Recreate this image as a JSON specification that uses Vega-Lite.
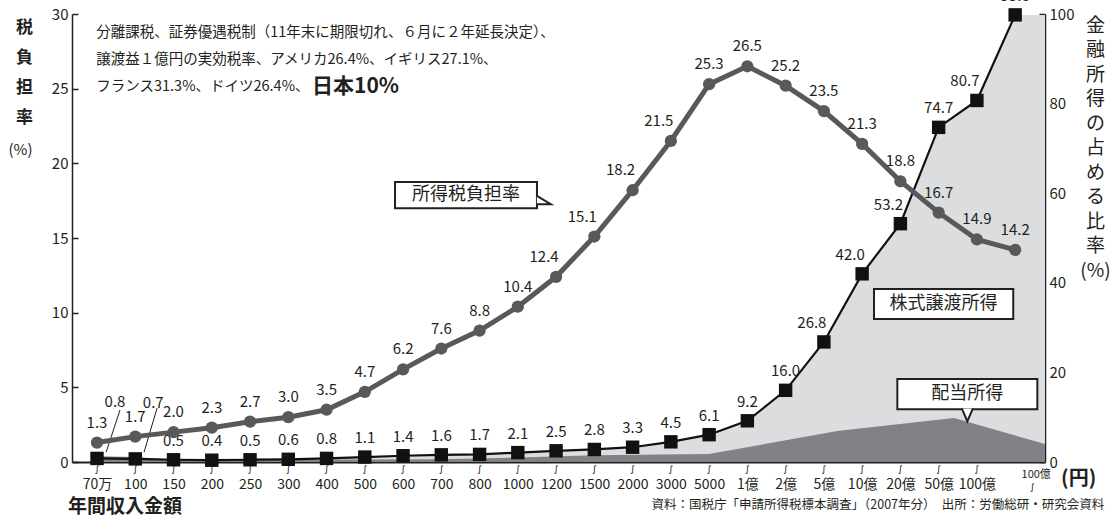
{
  "$schema": "https://vega.github.io/schema/vega-lite/v6.json",
  "width": 973,
  "height": 448,
  "autosize": {"type": "none"},
  "padding": {"left": 72, "top": 14, "right": 65, "bottom": 55},
  "background": "white",
  "config": {
    "view": {"stroke": null},
    "font": "Noto Sans CJK JP",
    "axis": {"domainColor": "#231f20", "tickColor": "#231f20", "labelColor": "#231f20", "titleColor": "#231f20", "grid": false, "domainWidth": 1.5, "tickWidth": 1.5}
  },
  "datasets": {
    "income": [
      {"i": 0, "label": "70万", "tax": 1.3, "stock": 0.8},
      {"i": 1, "label": "100", "tax": 1.7, "stock": 0.7},
      {"i": 2, "label": "150", "tax": 2.0, "stock": 0.5},
      {"i": 3, "label": "200", "tax": 2.3, "stock": 0.4},
      {"i": 4, "label": "250", "tax": 2.7, "stock": 0.5},
      {"i": 5, "label": "300", "tax": 3.0, "stock": 0.6},
      {"i": 6, "label": "400", "tax": 3.5, "stock": 0.8},
      {"i": 7, "label": "500", "tax": 4.7, "stock": 1.1},
      {"i": 8, "label": "600", "tax": 6.2, "stock": 1.4},
      {"i": 9, "label": "700", "tax": 7.6, "stock": 1.6},
      {"i": 10, "label": "800", "tax": 8.8, "stock": 1.7},
      {"i": 11, "label": "1000", "tax": 10.4, "stock": 2.1},
      {"i": 12, "label": "1200", "tax": 12.4, "stock": 2.5},
      {"i": 13, "label": "1500", "tax": 15.1, "stock": 2.8},
      {"i": 14, "label": "2000", "tax": 18.2, "stock": 3.3},
      {"i": 15, "label": "3000", "tax": 21.5, "stock": 4.5},
      {"i": 16, "label": "5000", "tax": 25.3, "stock": 6.1},
      {"i": 17, "label": "1億", "tax": 26.5, "stock": 9.2},
      {"i": 18, "label": "2億", "tax": 25.2, "stock": 16.0},
      {"i": 19, "label": "5億", "tax": 23.5, "stock": 26.8},
      {"i": 20, "label": "10億", "tax": 21.3, "stock": 42.0},
      {"i": 21, "label": "20億", "tax": 18.8, "stock": 53.2},
      {"i": 22, "label": "50億", "tax": 16.7, "stock": 74.7},
      {"i": 23, "label": "100億", "tax": 14.9, "stock": 80.7},
      {"i": 24, "label": "100億〜", "tax": 14.2, "stock": 99.8},
      {"i": 24.78, "edge": true, "stock": 99.8}
    ],
    "dividend": [
      {"i": 0, "v": 1.3},
      {"i": 1, "v": 1.1},
      {"i": 2, "v": 0.5},
      {"i": 9, "v": 0.6},
      {"i": 11, "v": 1.0},
      {"i": 13, "v": 1.5},
      {"i": 16, "v": 1.8},
      {"i": 19.35, "v": 6.9},
      {"i": 22.4, "v": 9.8},
      {"i": 24.78, "v": 4.0}
    ],
    "one": [{}]
  },
  "layer": [
    {
      "layer": [
        {
          "data": {"name": "income"},
          "mark": {"type": "area", "color": "#dcdddf", "interpolate": "linear"},
          "encoding": {
            "x": {"field": "i", "type": "quantitative", "scale": {"domain": [-0.654, 24.78], "nice": false, "zero": false},
              "axis": {"orient": "bottom", "values": [0, 1, 2, 3, 4, 5, 6, 7, 8, 9, 10, 11, 12, 13, 14, 15, 16, 17, 18, 19, 20, 21, 22, 23],
                "labelExpr": "['70万','100','150','200','250','300','400','500','600','700','800','1000','1200','1500','2000','3000','5000','1億','2億','5億','10億','20億','50億','100億'][datum.value]",
                "ticks": false, "labelPadding": 15, "labelFontSize": 14, "labelFont": "Liberation Sans Narrow, Noto Sans CJK JP", "title": null, "domainWidth": 2, "labelOverlap": false, "labelFlush": false}},
            "y": {"field": "stock", "type": "quantitative", "scale": {"domain": [0, 100], "nice": false},
              "axis": {"orient": "right", "values": [0, 20, 40, 60, 80, 100], "tickSize": -6, "labelFontSize": 15, "labelPadding": 10, "labelFont": "Noto Sans CJK JP",
                "title": ["金", "融", "所", "得", "の", "占", "め", "る", "比", "率", "(%)"], "titleAngle": 0, "titleFontSize": 19, "titleFontWeight": "normal", "titleLineHeight": 24.5, "titleAlign": "center", "titleBaseline": "top", "titleX": 50, "titleY": 2}}
          }
        },
        {
          "data": {"name": "dividend"},
          "mark": {"type": "area", "color": "#808285"},
          "encoding": {
            "x": {"field": "i", "type": "quantitative"},
            "y": {"field": "v", "type": "quantitative"}
          }
        },
        {
          "data": {"name": "income"},
          "transform": [{"filter": "!datum.edge"}],
          "layer": [
            {"mark": {"type": "line", "color": "#111111", "strokeWidth": 2.2}},
            {"mark": {"type": "point", "shape": "square", "filled": true, "color": "#111111", "size": 180, "opacity": 1}},
            {
              "transform": [{"filter": "datum.i >= 2 && datum.i != 19 && datum.i != 20 && datum.i != 21 && datum.i != 23"}],
              "mark": {"type": "text", "dy": -19, "fontSize": 15, "color": "#231f20"},
              "encoding": {"text": {"field": "stock", "type": "quantitative", "format": ".1f"}}
            },
            {
              "transform": [{"filter": "datum.i == 19 || datum.i == 20 || datum.i == 21 || datum.i == 23"}],
              "mark": {"type": "text", "dy": -19, "dx": -12, "fontSize": 15, "color": "#231f20"},
              "encoding": {"text": {"field": "stock", "type": "quantitative", "format": ".1f"}}
            },
            {
              "transform": [{"filter": "datum.i < 2"}],
              "mark": {"type": "text", "dy": -56, "dx": 18, "fontSize": 15, "color": "#231f20"},
              "encoding": {"text": {"field": "stock", "type": "quantitative", "format": ".1f"}}
            }
          ],
          "encoding": {
            "x": {"field": "i", "type": "quantitative"},
            "y": {"field": "stock", "type": "quantitative"}
          }
        },
        {
          "data": {"values": [{"i": 0.6, "v": 11.6, "i2": 0.24, "v2": 2.2}, {"i": 1.57, "v": 12.05, "i2": 1.23, "v2": 2.2}]},
          "mark": {"type": "rule", "color": "#231f20", "strokeWidth": 1},
          "encoding": {
            "x": {"field": "i", "type": "quantitative"},
            "x2": {"field": "i2"},
            "y": {"field": "v", "type": "quantitative"},
            "y2": {"field": "v2"}
          }
        },
        {
          "data": {"values": [{"name": "株式譲渡所得", "i": 20.31, "i2": 23.95, "v": 38.6, "v2": 31.9}, {"name": "配当所得", "i": 20.92, "i2": 24.58, "v": 18.5, "v2": 11.8}]},
          "layer": [
            {
              "mark": {"type": "rect", "fill": "white", "stroke": "#231f20", "strokeWidth": 2},
              "encoding": {
                "x": {"field": "i", "type": "quantitative"},
                "x2": {"field": "i2"},
                "y": {"field": "v", "type": "quantitative"},
                "y2": {"field": "v2"}
              }
            },
            {
              "transform": [{"calculate": "(datum.i + datum.i2) / 2", "as": "ic"}, {"calculate": "(datum.v + datum.v2) / 2", "as": "vc"}],
              "mark": {"type": "text", "fontSize": 18, "color": "#231f20", "baseline": "middle"},
              "encoding": {
                "x": {"field": "ic", "type": "quantitative"},
                "y": {"field": "vc", "type": "quantitative"},
                "text": {"field": "name"}
              }
            }
          ]
        },
        {
          "data": {"name": "one"},
          "mark": {"type": "point", "shape": "M -0.85 -1 L 0 1 L 0.85 -1", "filled": true, "fill": "white", "stroke": "#231f20", "strokeWidth": 2, "size": 169, "opacity": 1},
          "encoding": {
            "x": {"datum": 22.75, "type": "quantitative"},
            "y": {"datum": 10.5, "type": "quantitative"}
          }
        }
      ]
    },
    {
      "layer": [
        {
          "data": {"name": "income"},
          "transform": [{"filter": "!datum.edge"}],
          "layer": [
            {
              "mark": {"type": "line", "color": "#58595b", "strokeWidth": 5},
              "encoding": {
                "y": {"field": "tax", "type": "quantitative", "scale": {"domain": [0, 30], "nice": false},
                  "axis": {"orient": "left", "values": [0, 5, 10, 15, 20, 25, 30], "tickSize": -6, "labelFontSize": 15, "labelPadding": 10, "labelFont": "Noto Sans CJK JP",
                    "title": ["税", "負", "担", "率"], "titleAngle": 0, "titleFontSize": 17, "titleFontWeight": "bold", "titleLineHeight": 30, "titleAlign": "center", "titleBaseline": "top", "titleX": -48, "titleY": 5}}
              }
            },
            {"mark": {"type": "point", "shape": "circle", "filled": true, "color": "#58595b", "size": 150, "opacity": 1}},
            {
              "transform": [{"filter": "datum.i < 12 || datum.i > 15"}],
              "mark": {"type": "text", "dy": -20, "fontSize": 15, "color": "#231f20"},
              "encoding": {"text": {"field": "tax", "type": "quantitative", "format": ".1f"}}
            },
            {
              "transform": [{"filter": "datum.i >= 12 && datum.i <= 15"}],
              "mark": {"type": "text", "dy": -20, "dx": -12, "fontSize": 15, "color": "#231f20"},
              "encoding": {"text": {"field": "tax", "type": "quantitative", "format": ".1f"}}
            },
            {
              "transform": [{"filter": "datum.i < 24"}],
              "mark": {"type": "text", "fontSize": 9, "align": "center", "baseline": "middle", "font": "DejaVu Sans", "color": "#000000", "text": "∫"},
              "encoding": {"y": {"datum": -0.5, "type": "quantitative"}}
            }
          ],
          "encoding": {
            "x": {"field": "i", "type": "quantitative"},
            "y": {"field": "tax", "type": "quantitative"}
          }
        },
        {
          "data": {"values": [{"name": "所得税負担率", "i": 7.79, "i2": 11.5, "v": 18.75, "v2": 17.0}]},
          "layer": [
            {
              "mark": {"type": "rect", "fill": "white", "stroke": "#231f20", "strokeWidth": 2},
              "encoding": {
                "x": {"field": "i", "type": "quantitative"},
                "x2": {"field": "i2"},
                "y": {"field": "v", "type": "quantitative"},
                "y2": {"field": "v2"}
              }
            },
            {
              "transform": [{"calculate": "(datum.i + datum.i2) / 2", "as": "ic"}, {"calculate": "(datum.v + datum.v2) / 2", "as": "vc"}],
              "mark": {"type": "text", "fontSize": 18, "color": "#231f20", "baseline": "middle"},
              "encoding": {
                "x": {"field": "ic", "type": "quantitative"},
                "y": {"field": "vc", "type": "quantitative"},
                "text": {"field": "name"}
              }
            }
          ]
        },
        {
          "data": {"name": "one"},
          "mark": {"type": "point", "shape": "M -1 -0.9 L 1 0.3 L -1 0.3", "filled": true, "fill": "white", "stroke": "#231f20", "strokeWidth": 2, "size": 196, "opacity": 1},
          "encoding": {
            "x": {"datum": 11.68, "type": "quantitative"},
            "y": {"datum": 17.4, "type": "quantitative"}
          }
        },
        {
          "data": {"values": [
            {"t": "分離課税、証券優遇税制（11年末に期限切れ、６月に２年延長決定）、", "v": 28.75},
            {"t": "譲渡益１億円の実効税率、アメリカ26.4%、イギリス27.1%、", "v": 26.9},
            {"t": "フランス31.3%、ドイツ26.4%、", "v": 25.1}
          ]},
          "mark": {"type": "text", "align": "left", "baseline": "middle", "fontSize": 14.5, "color": "#231f20"},
          "encoding": {
            "x": {"datum": -0.02, "type": "quantitative"},
            "y": {"field": "v", "type": "quantitative"},
            "text": {"field": "t"}
          }
        },
        {
          "data": {"name": "one"},
          "layer": [
            {
              "mark": {"type": "text", "align": "left", "baseline": "middle", "fontSize": 21, "fontWeight": "bold", "color": "#231f20", "text": "日本10%"},
              "encoding": {"x": {"datum": 5.62, "type": "quantitative"}, "y": {"datum": 25.1, "type": "quantitative"}}
            },
            {
              "mark": {"type": "text", "align": "center", "baseline": "middle", "fontSize": 15, "color": "#231f20", "text": "(%)"},
              "encoding": {"x": {"datum": -2.0, "type": "quantitative"}, "y": {"datum": 20.9, "type": "quantitative"}}
            },
            {
              "mark": {"type": "text", "align": "left", "baseline": "middle", "fontSize": 19, "fontWeight": "bold", "color": "#231f20", "text": "年間収入金額"},
              "encoding": {"x": {"datum": -0.76, "type": "quantitative"}, "y": {"datum": -3.0, "type": "quantitative"}}
            },
            {
              "mark": {"type": "text", "align": "right", "baseline": "middle", "fontSize": 12.5, "color": "#231f20", "text": "資料：国税庁「申請所得税標本調査」（2007年分）　出所：労働総研・研究会資料"},
              "encoding": {"x": {"datum": 26.33, "type": "quantitative"}, "y": {"datum": -2.85, "type": "quantitative"}}
            },
            {
              "mark": {"type": "text", "align": "center", "baseline": "middle", "fontSize": 11, "font": "Liberation Sans Narrow, Noto Sans CJK JP", "color": "#231f20", "text": "100億"},
              "encoding": {"x": {"datum": 24.55, "type": "quantitative"}, "y": {"datum": -0.85, "type": "quantitative"}}
            },
            {
              "mark": {"type": "text", "align": "center", "baseline": "middle", "fontSize": 9, "font": "DejaVu Sans", "color": "#000000", "text": "∫"},
              "encoding": {"x": {"datum": 24.45, "type": "quantitative"}, "y": {"datum": -1.7, "type": "quantitative"}}
            },
            {
              "mark": {"type": "text", "align": "left", "baseline": "middle", "fontSize": 20, "fontWeight": "bold", "color": "#231f20", "text": "(円)"},
              "encoding": {"x": {"datum": 25.2, "type": "quantitative"}, "y": {"datum": -1.15, "type": "quantitative"}}
            }
          ]
        }
      ]
    }
  ],
  "resolve": {"scale": {"y": "independent"}}
}
